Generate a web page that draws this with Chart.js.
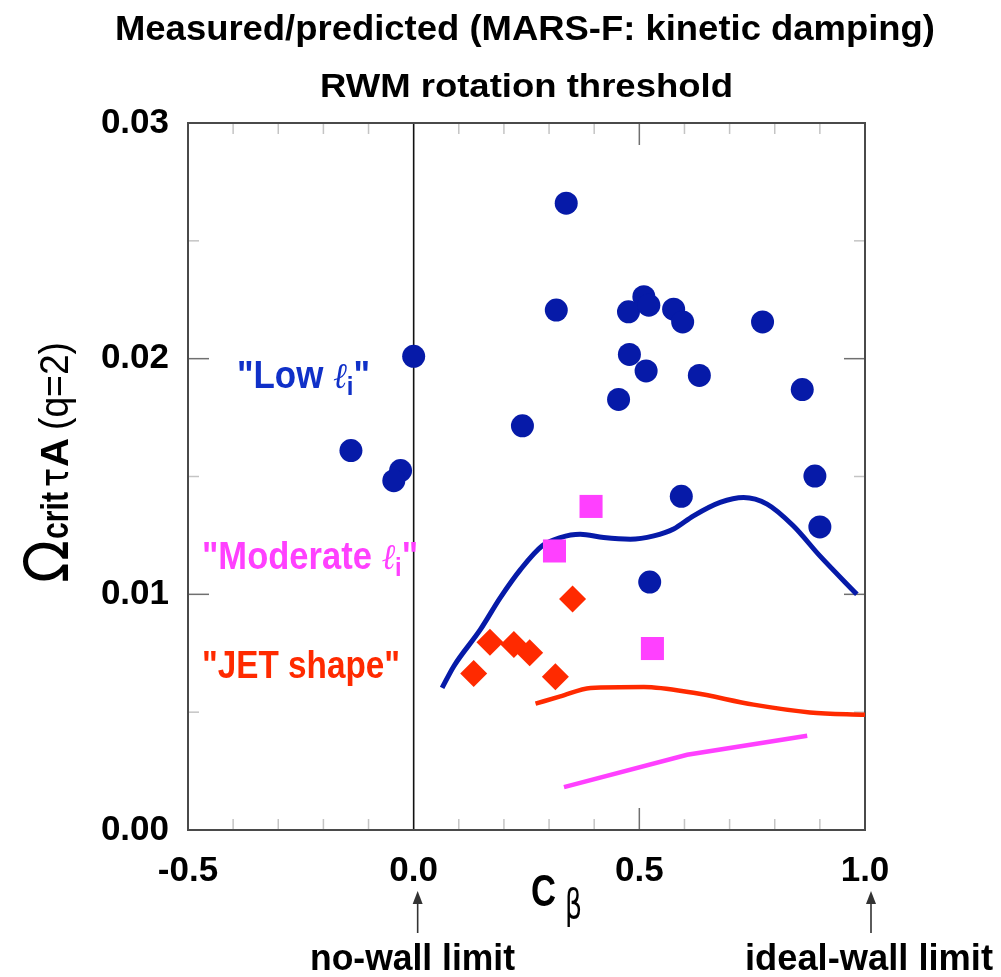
<!DOCTYPE html>
<html><head><meta charset="utf-8">
<script src="https://cdn.jsdelivr.net/npm/chart.js@4.4.1/dist/chart.umd.min.js"></script>
<style>html,body{margin:0;padding:0;background:#fff}canvas{display:block}</style>
</head><body>
<canvas id="c" width="1001" height="977"></canvas>
<script>
// ---- data ----
const xTickValues = [-0.5, 0.0, 0.5, 1.0];
const yTickValues = [0.00, 0.01, 0.02, 0.03];

const lowLiX = [0.338, 0.316, 0.476, 0.510, 0.521, 0.576, 0.596, 0.773, 0.000, 0.478, 0.515, 0.633, 0.454, 0.861, 0.241, 0.889, -0.139, -0.029, -0.044, 0.593, 0.900, 0.523];
const lowLiY = [0.0266, 0.02206, 0.02199, 0.02263, 0.02227, 0.0221, 0.02156, 0.02156, 0.0201, 0.02018, 0.01948, 0.01929, 0.01827, 0.01869, 0.01715, 0.01502, 0.0161, 0.01525, 0.01482, 0.01416, 0.01286, 0.01052];

const modLiX = [0.393, 0.312, 0.529];
const modLiY = [0.01373, 0.01184, 0.0077];

const jetX = [0.352, 0.169, 0.222, 0.257, 0.133, 0.314];
const jetY = [0.0098, 0.00797, 0.00787, 0.00752, 0.00664, 0.0065];

const lowLiCurveX = [0.063, 0.089, 0.148, 0.192, 0.237, 0.285, 0.325, 0.369, 0.421, 0.480, 0.532, 0.576, 0.620, 0.679, 0.731, 0.783, 0.841, 0.900, 0.982];
const lowLiCurveY = [0.00603, 0.00695, 0.00851, 0.00986, 0.01106, 0.01206, 0.01241, 0.01255, 0.01241, 0.01234, 0.01248, 0.01277, 0.01333, 0.0139, 0.01411, 0.01383, 0.01291, 0.01163, 0.0100];

const jetCurveX = [0.270, 0.325, 0.392, 0.510, 0.620, 0.753, 0.878, 1.0];
const jetCurveY = [0.00536, 0.00567, 0.00603, 0.00607, 0.00582, 0.00532, 0.00499, 0.00489];

const modCurveX = [0.333, 0.606, 0.872];
const modCurveY = [0.00182, 0.00319, 0.0040];

// ---- helpers ----
const pts = (xs, ys) => xs.map((x, i) => ({x: x, y: ys[i]}));
const BLUE = '#061AA8', RED = '#FF2A00', MAG = '#FF40FF';
const SANS = '"Liberation Sans", Arial, sans-serif';

function fitSegs(ctx, segs, x, y, w, align) {
  ctx.save();
  let total = 0;
  segs.forEach(s => { ctx.font = s.f; s.w = ctx.measureText(s.t).width + (s.gap || 0); total += s.w; });
  const k = w / total;
  let x0 = align === 'center' ? x - w / 2 : (align === 'right' ? x - w : x);
  ctx.translate(x0, y);
  ctx.scale(k, 1);
  ctx.textAlign = 'left';
  ctx.textBaseline = 'alphabetic';
  let cx = 0;
  segs.forEach(s => {
    ctx.font = s.f; ctx.fillStyle = s.c || '#000';
    ctx.fillText(s.t, cx, s.dy || 0);
    cx += s.w;
  });
  ctx.restore();
}
function fitText(ctx, t, x, y, w, f, c, align) {
  fitSegs(ctx, [{t: t, f: f, c: c}], x, y, w, align);
}

const decor = {
  id: 'decor',
  beforeDatasetsDraw(chart) {
    const ctx = chart.ctx, a = chart.chartArea;
    const xs = chart.scales.x, ys = chart.scales.y;
    ctx.save();
    const tick = (x1, y1, x2, y2, col) => {
      ctx.strokeStyle = col; ctx.lineWidth = 1.5;
      ctx.beginPath(); ctx.moveTo(x1, y1); ctx.lineTo(x2, y2); ctx.stroke();
    };
    for (let i = -4; i <= 9; i++) {
      const v = i / 10;
      if (i === 0) continue;
      const px = xs.getPixelForValue(v);
      const major = (i === 5);
      const L = major ? 22 : 11, col = major ? '#707070' : '#c4c4c4';
      tick(px, a.bottom, px, a.bottom - L, col);
      tick(px, a.top, px, a.top + L, col);
    }
    for (let i = 1; i <= 5; i++) {
      const v = i * 0.005;
      const py = ys.getPixelForValue(v);
      const major = (i % 2 === 0);
      const L = major ? 21 : 11, col = major ? '#707070' : '#c4c4c4';
      tick(a.left, py, a.left + L, py, col);
      tick(a.right, py, a.right - L, py, col);
    }
    const x0 = xs.getPixelForValue(0);
    ctx.strokeStyle = '#111'; ctx.lineWidth = 1.6;
    ctx.beginPath(); ctx.moveTo(x0, a.top); ctx.lineTo(x0, a.bottom); ctx.stroke();
    ctx.strokeStyle = '#4a4a4a'; ctx.lineWidth = 2;
    ctx.strokeRect(a.left, a.top, a.right - a.left, a.bottom - a.top);
    ctx.restore();
  },
  afterDraw(chart) {
    const ctx = chart.ctx;
    const xs = chart.scales.x;
    // title
    fitText(ctx, 'Measured/predicted (MARS-F: kinetic damping)', 115, 40, 820, 'bold 35px ' + SANS, '#000', 'left');
    fitText(ctx, 'RWM rotation threshold', 320, 97, 413, 'bold 33px ' + SANS, '#000', 'left');

    // group labels
    const ell = 'italic 36px "DejaVu Serif", serif';
    fitSegs(ctx, [
      {t: '"Low ', f: 'bold 38px ' + SANS, c: '#1030C8'},
      {t: '\u2113', f: ell, c: '#1030C8'},
      {t: 'i', f: 'bold 26px ' + SANS, c: '#1030C8', dy: 7},
      {t: '"', f: 'bold 38px ' + SANS, c: '#1030C8'}
    ], 237, 388, 133, 'left');
    fitSegs(ctx, [
      {t: '"Moderate ', f: 'bold 38px ' + SANS, c: MAG},
      {t: '\u2113', f: ell, c: MAG},
      {t: 'i', f: 'bold 26px ' + SANS, c: MAG, dy: 7},
      {t: '"', f: 'bold 38px ' + SANS, c: MAG}
    ], 202, 569, 216, 'left');
    fitText(ctx, '"JET shape"', 202, 678, 198, 'bold 38px ' + SANS, RED, 'left');

    // x axis title C_beta
    fitText(ctx, 'C', 531, 906, 25, 'bold 44px ' + SANS, '#000', 'left');
    fitText(ctx, '\u03B2', 565, 918, 17, '40px "DejaVu Sans", sans-serif', '#000', 'left');

    // y axis title (rotated)
    ctx.save();
    ctx.translate(68, 583);
    ctx.rotate(-Math.PI / 2);
    fitText(ctx, '\u03A9', 0, 0, 43, '60px "DejaVu Sans", sans-serif', '#000', 'left');
    fitText(ctx, 'crit', 44, 0, 47, 'bold 38px ' + SANS, '#000', 'left');
    fitText(ctx, '\u03C4', 96, 0, 19, '40px "DejaVu Sans", sans-serif', '#000', 'left');
    fitText(ctx, 'A', 116, 0, 29, 'bold 38px ' + SANS, '#000', 'left');
    fitText(ctx, '(q=2)', 153, 0, 88, '40px ' + SANS, '#000', 'left');
    ctx.restore();

    // arrows and limit labels
    const arrow = (x) => {
      ctx.save();
      ctx.strokeStyle = '#333'; ctx.fillStyle = '#333'; ctx.lineWidth = 1.6;
      ctx.beginPath(); ctx.moveTo(x, 933); ctx.lineTo(x, 900); ctx.stroke();
      ctx.beginPath(); ctx.moveTo(x, 891); ctx.lineTo(x - 5, 904); ctx.lineTo(x + 5, 904); ctx.closePath(); ctx.fill();
      ctx.restore();
    };
    arrow(xs.getPixelForValue(0) + 4);
    arrow(xs.getPixelForValue(1) + 6);
    fitText(ctx, 'no-wall limit', 310, 970, 205, 'bold 37px ' + SANS, '#000', 'left');
    fitText(ctx, 'ideal-wall limit', 745, 970, 248, 'bold 37px ' + SANS, '#000', 'left');
  }
};

const tickFont = {family: SANS, size: 35, weight: 'bold'};

new Chart(document.getElementById('c').getContext('2d'), {
  type: 'scatter',
  data: {
    datasets: [
      {label: 'Low li', data: pts(lowLiX, lowLiY), pointStyle: 'circle', pointRadius: 11.5, pointHoverRadius: 11.5,
       backgroundColor: BLUE, borderColor: BLUE, borderWidth: 0, order: 1},
      {label: 'Moderate li', data: pts(modLiX, modLiY), pointStyle: 'rect', pointRadius: 16.3, pointHoverRadius: 16.3,
       backgroundColor: MAG, borderColor: MAG, borderWidth: 0, order: 2},
      {label: 'JET shape', data: pts(jetX, jetY), pointStyle: 'rectRot', pointRadius: 13.5, pointHoverRadius: 13.5,
       backgroundColor: RED, borderColor: RED, borderWidth: 0, order: 3},
      {label: 'Low li curve', data: pts(lowLiCurveX, lowLiCurveY), showLine: true, pointRadius: 0, borderColor: BLUE,
       borderWidth: 5, cubicInterpolationMode: 'monotone', fill: false, order: 4},
      {label: 'JET curve', data: pts(jetCurveX, jetCurveY), showLine: true, pointRadius: 0, borderColor: RED,
       borderWidth: 4.5, cubicInterpolationMode: 'monotone', fill: false, order: 5},
      {label: 'Moderate curve', data: pts(modCurveX, modCurveY), showLine: true, pointRadius: 0, borderColor: MAG,
       borderWidth: 4.5, tension: 0, fill: false, order: 6}
    ]
  },
  options: {
    responsive: false,
    animation: false,
    devicePixelRatio: 1,
    layout: {padding: {top: 123, right: 136, left: 0, bottom: 0}},
    plugins: {legend: {display: false}, tooltip: {enabled: false}, title: {display: false}},
    scales: {
      x: {
        type: 'linear', min: -0.5, max: 1.0,
        afterFit(s) { s.height = 147; },
        afterBuildTicks(s) { s.ticks = xTickValues.map(v => ({value: v})); },
        ticks: {callback: v => Number(v).toFixed(1), font: tickFont, color: '#000', padding: 20, maxRotation: 0, autoSkip: false},
        grid: {display: false, drawTicks: false},
        border: {display: false}
      },
      y: {
        type: 'linear', min: 0, max: 0.03,
        afterFit(s) { s.width = 188; },
        afterBuildTicks(s) { s.ticks = yTickValues.map(v => ({value: v})); },
        ticks: {callback: v => Number(v).toFixed(2), font: tickFont, color: '#000', padding: 19, autoSkip: false},
        grid: {display: false, drawTicks: false},
        border: {display: false}
      }
    }
  },
  plugins: [decor]
});
</script>
</body></html>
